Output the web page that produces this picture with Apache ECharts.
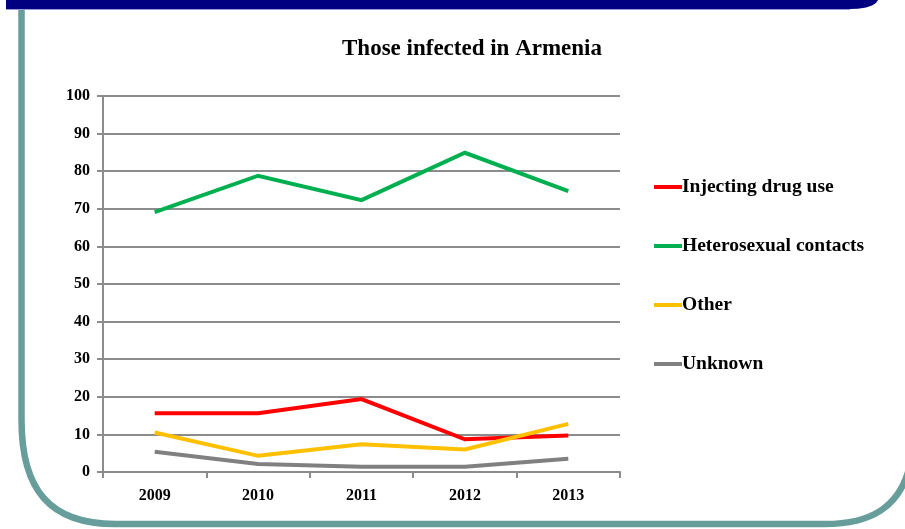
<!DOCTYPE html>
<html>
<head>
<meta charset="utf-8">
<script src="https://cdn.jsdelivr.net/npm/echarts@6/dist/echarts.min.js"></script>
<style>
  html, body { margin: 0; padding: 0; background: #fff; }
  #chart { width: 905px; height: 529px; }
</style>
</head>
<body>
<div id="chart"></div>
<script>
// Share of newly infected people in Armenia by transmission route, %
const years = ['2009', '2010', '2011', '2012', '2013'];
const injectingDrugUse = [15.6, 15.6, 19.4, 8.7, 9.7];
const heterosexualContacts = [69.1, 78.8, 72.3, 84.9, 74.7];
const other = [10.5, 4.3, 7.4, 6.0, 12.8];
const unknown = [5.4, 2.1, 1.4, 1.4, 3.5];

const seriesNames = ['Injecting drug use', 'Heterosexual contacts', 'Other', 'Unknown'];
const seriesColors = ['#ff0000', '#00b050', '#ffc000', '#808080'];
const seriesValues = [injectingDrugUse, heterosexualContacts, other, unknown];

const FONT = '"Liberation Serif", "Times New Roman", serif';
const TEAL = '#679e9c';
const FRAME_W = 6.5;

const chart = echarts.init(document.getElementById('chart'), null, { renderer: 'canvas' });

chart.setOption({
  backgroundColor: '#ffffff',
  animation: false,
  title: {
    text: 'Those infected in Armenia',
    left: 467,
    top: 33,
    textAlign: 'center',
    textStyle: { fontFamily: FONT, fontWeight: 'bold', fontSize: 23, color: '#000' }
  },
  legend: {
    orient: 'vertical',
    left: 654,
    top: 177,
    padding: 0,
    itemGap: 39,
    itemWidth: 28,
    itemHeight: 4,
    icon: 'rect',
    data: seriesNames,
    textStyle: {
      fontFamily: FONT, fontWeight: 'bold', fontSize: 19.5, lineHeight: 20, color: '#000',
      padding: [0, 0, 0, -5]
    }
  },
  grid: { left: 103, right: 285, top: 96, bottom: 57 },
  xAxis: {
    type: 'category',
    data: years,
    boundaryGap: true,
    axisLine: { lineStyle: { color: '#8c8c8c', width: 2 } },
    axisTick: { show: true, length: 6, lineStyle: { color: '#8c8c8c', width: 2 } },
    axisLabel: {
      margin: 16, color: '#000',
      fontFamily: FONT, fontWeight: 'bold', fontSize: 16
    }
  },
  yAxis: {
    type: 'value',
    min: 0, max: 100, interval: 10,
    axisLine: { show: true, lineStyle: { color: '#8c8c8c', width: 2 } },
    axisTick: { show: true, length: 6, lineStyle: { color: '#8c8c8c', width: 2 } },
    splitLine: { lineStyle: { color: '#8c8c8c', width: 2 } },
    axisLabel: {
      margin: 13, color: '#000',
      fontFamily: FONT, fontWeight: 'bold', fontSize: 16
    }
  },
  series: seriesNames.map((name, i) => ({
    name: name,
    type: 'line',
    data: seriesValues[i],
    showSymbol: false,
    symbol: 'none',
    color: seriesColors[i],
    lineStyle: { width: 4, color: seriesColors[i], cap: 'butt', join: 'miter' },
    z: 3
  })),
  graphic: [
    // navy header band with rounded right end
    {
      type: 'polygon',
      silent: true,
      z: 10,
      shape: {
        points: [[6, 0], [878, 0], [876, 3], [872, 5.5], [866, 7.5], [858, 8.7], [850, 9], [6, 9]]
      },
      style: { fill: '#000080' }
    },
    {
      type: 'line',
      silent: true,
      z: 10,
      shape: { x1: 6, y1: 9.5, x2: 850, y2: 9.5 },
      style: { stroke: '#9a9ad8', lineWidth: 1 }
    },
    // teal frame: left edge, rounded bottom corners, bottom edge
    {
      type: 'line',
      silent: true,
      z: 10,
      shape: { x1: 21.5, y1: 10, x2: 21.5, y2: 420 },
      style: { stroke: TEAL, lineWidth: FRAME_W }
    },
    {
      type: 'bezierCurve',
      silent: true,
      z: 10,
      shape: { x1: 21.5, y1: 420, cpx1: 21.5, cpy1: 490, cpx2: 50, cpy2: 524, x2: 115, y2: 524 },
      style: { fill: null, stroke: TEAL, lineWidth: FRAME_W }
    },
    {
      type: 'line',
      silent: true,
      z: 10,
      shape: { x1: 115, y1: 524, x2: 825, y2: 524 },
      style: { stroke: TEAL, lineWidth: FRAME_W }
    },
    {
      type: 'bezierCurve',
      silent: true,
      z: 10,
      shape: { x1: 825, y1: 524, cpx1: 870, cpy1: 524, cpx2: 900, cpy2: 508, x2: 910, y2: 465 },
      style: { fill: null, stroke: TEAL, lineWidth: FRAME_W }
    }
  ]
});
</script>
</body>
</html>
